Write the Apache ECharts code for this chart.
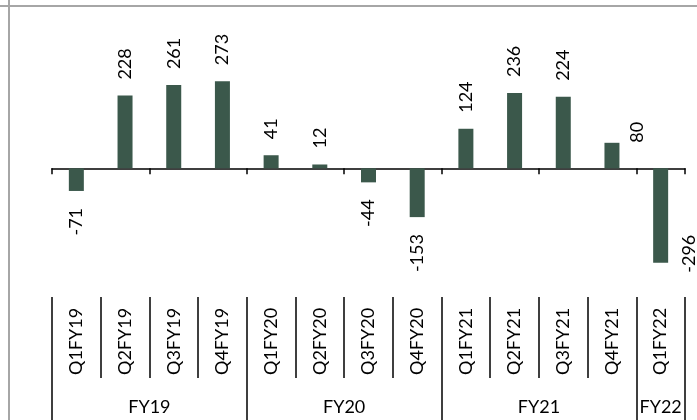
<!DOCTYPE html>
<html>
<head>
<meta charset="utf-8">
<script src="https://cdn.jsdelivr.net/npm/echarts@6/dist/echarts.min.js"></script>
<style>
  html, body { margin: 0; padding: 0; background: #fff; }
  #chart { width: 697px; height: 420px; }
</style>
</head>
<body>
<div id="chart"></div>
<script>
// Quarterly values
const categories = ['Q1FY19', 'Q2FY19', 'Q3FY19', 'Q4FY19',
                    'Q1FY20', 'Q2FY20', 'Q3FY20', 'Q4FY20',
                    'Q1FY21', 'Q2FY21', 'Q3FY21', 'Q4FY21',
                    'Q1FY22'];
const values = [-71, 228, 261, 273, 41, 12, -44, -153, 124, 236, 224, 80, -296];

// Fiscal-year groups along the bottom
const fiscalYears = ['FY19', 'FY20', 'FY21', 'FY22'];
const quartersPerYear = [4, 4, 4, 1];

// ---- styling ----
const FONT = 'Lato';
const FONT_SIZE = 18;
const BAR_COLOR = '#3b584b';
const TEXT_COLOR = '#000';
// per-bar label nudges (in the rotated label's own frame: [along text, across text])
const labelNudge = { 11: [-16, 25], 12: [45, 29] };

// group boundaries and centers in category units
const groupEdges = [0];
quartersPerYear.forEach(n => groupEdges.push(groupEdges[groupEdges.length - 1] + n));
const groupCenters = fiscalYears.map((_, i) => (groupEdges[i] + groupEdges[i + 1]) / 2);

const barData = values.map((v, i) => {
  const pos = v >= 0;
  const label = {
    position: pos ? 'top' : 'bottom',
    distance: pos ? 16 : 17,
    align: pos ? 'left' : 'right'
  };
  if (labelNudge[i]) label.offset = labelNudge[i];
  return { value: v, label };
});

const chart = echarts.init(document.getElementById('chart'), null, { renderer: 'canvas' });

chart.setOption({
  animation: false,
  textStyle: { fontFamily: FONT },
  grid: { left: 52, right: 12, top: 20, bottom: 130, containLabel: false },
  xAxis: [
    {
      type: 'category',
      data: categories,
      axisLine: { onZero: true, lineStyle: { color: '#000', width: 1.5 } },
      axisTick: { show: true, length: 6, lineStyle: { color: '#000', width: 1.5 } },
      axisLabel: { show: false },
      splitLine: { show: false }
    },
    {
      type: 'category',
      data: categories,
      position: 'bottom',
      offset: 88,
      axisLine: { show: false },
      axisTick: { show: true, inside: true, length: 81, lineStyle: { color: '#000', width: 1.5 } },
      axisLabel: {
        show: true, inside: true, rotate: 90, margin: 3, interval: 0,
        fontFamily: FONT, fontSize: FONT_SIZE, color: TEXT_COLOR
      },
      splitLine: { show: false }
    },
    {
      type: 'value',
      min: 0,
      max: groupEdges[groupEdges.length - 1],
      position: 'bottom',
      offset: 88,
      axisLine: { show: false },
      splitLine: { show: false },
      axisTick: {
        show: true, length: 44, customValues: groupEdges,
        lineStyle: { color: '#000', width: 1.5 }
      },
      axisLabel: {
        show: true, margin: 20, customValues: groupCenters,
        formatter: v => fiscalYears[groupCenters.indexOf(v)] || '',
        fontFamily: FONT, fontSize: FONT_SIZE, color: TEXT_COLOR
      }
    }
  ],
  yAxis: {
    type: 'value',
    min: -381.5,
    max: 465,
    show: false,
    splitLine: { show: false }
  },
  series: [{
    type: 'bar',
    xAxisIndex: 0,
    data: barData,
    barWidth: 15,
    itemStyle: { color: BAR_COLOR },
    label: {
      show: true,
      rotate: 90,
      verticalAlign: 'middle',
      fontFamily: FONT,
      fontSize: FONT_SIZE,
      color: TEXT_COLOR
    }
  }],
  graphic: [
    { type: 'line', shape: { x1: 0, y1: 6, x2: 697, y2: 6 }, style: { stroke: '#a6a6a6', lineWidth: 2 }, silent: true },
    { type: 'line', shape: { x1: 9, y1: 0, x2: 9, y2: 420 }, style: { stroke: '#a6a6a6', lineWidth: 2 }, silent: true }
  ]
});
</script>
</body>
</html>
